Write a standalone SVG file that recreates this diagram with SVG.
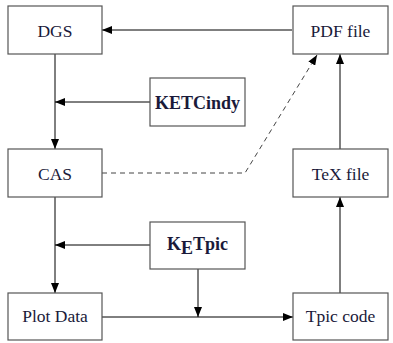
<svg xmlns="http://www.w3.org/2000/svg" width="393" height="343" viewBox="0 0 393 343">
<defs>
<marker id="ah" viewBox="0 0 10 8" refX="10" refY="4" markerWidth="10" markerHeight="8" markerUnits="userSpaceOnUse" orient="auto">
<path d="M0,0 L10,4 L0,8 Z" fill="#000"/>
</marker>
</defs>
<style>
.box{fill:#fff;stroke:#555;stroke-width:1.2}
text{font-family:'Liberation Serif','Times New Roman',serif;font-size:17.5px;fill:#1a1a3a;text-anchor:middle}
.b{font-weight:bold;font-size:18px}
.c{fill:none;stroke:#000;stroke-width:1}
.d{fill:none;stroke:#444;stroke-width:1;stroke-dasharray:5,4}
</style>
<rect width="393" height="343" fill="#fff"/>
<g id="connectors">
<path class="c" d="M292,30 H102" marker-end="url(#ah)"/>
<path class="c" d="M55,54 V149" marker-end="url(#ah)"/>
<path class="c" d="M150,102 H55" marker-end="url(#ah)"/>
<path class="c" d="M55,197 V293" marker-end="url(#ah)"/>
<path class="c" d="M150,245 H55" marker-end="url(#ah)"/>
<path class="c" d="M198,269 V317" marker-end="url(#ah)"/>
<path class="c" d="M102,317 H293" marker-end="url(#ah)"/>
<path class="c" d="M340,293 V197" marker-end="url(#ah)"/>
<path class="c" d="M340,149 V54" marker-end="url(#ah)"/>
<path class="d" d="M102,173 H245 L317,55" marker-end="url(#ah)"/>
</g>
<g id="dgs"><rect class="box" x="8" y="6" width="94" height="48"/><text x="55" y="36.5">DGS</text></g>
<g id="pdf"><rect class="box" x="293" y="6" width="95" height="48"/><text x="340.5" y="36.5">PDF file</text></g>
<g id="ketcindy"><rect class="box" x="150" y="78" width="95" height="48"/><text class="b" x="197.5" y="108.5">KETCindy</text></g>
<g id="cas"><rect class="box" x="8" y="149" width="94" height="48"/><text x="55" y="179.5">CAS</text></g>
<g id="tex"><rect class="box" x="293" y="149" width="95" height="48"/><text x="340.5" y="179.5">TeX file</text></g>
<g id="ketpic"><rect class="box" x="150" y="222" width="95" height="47"/><text class="b" x="197.5" y="250">K<tspan dy="4">E</tspan><tspan dy="-4">Tpic</tspan></text></g>
<g id="plotdata"><rect class="box" x="8" y="293" width="94" height="47"/><text x="55" y="322">Plot Data</text></g>
<g id="tpic"><rect class="box" x="293" y="293" width="95" height="47"/><text x="340.5" y="322">Tpic code</text></g>
</svg>
